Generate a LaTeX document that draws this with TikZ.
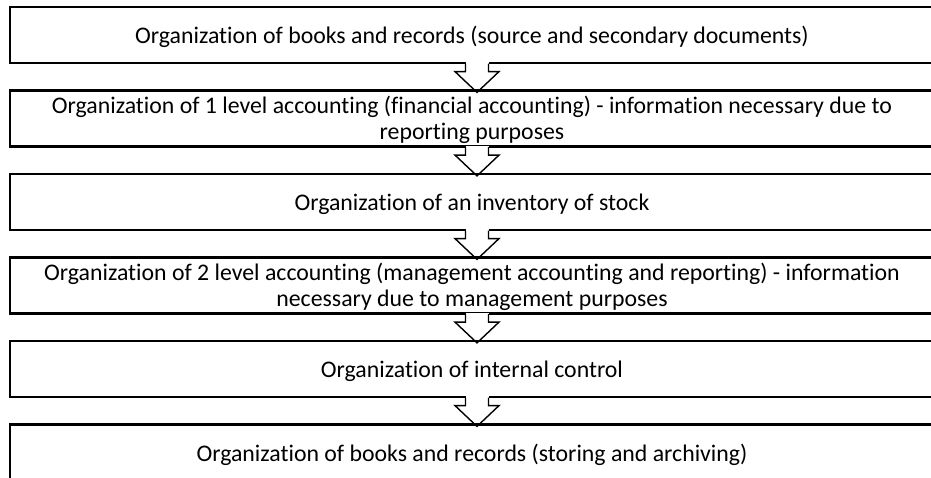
\documentclass[tikz,border=0pt]{standalone}
\usepackage{fontspec}
\setmainfont{Carlito}[Ligatures=NoCommon]
\usetikzlibrary{calc}
\usetikzlibrary{positioning}

\tikzset{
  stagebox/.style={draw,line width=1.1pt,rectangle,minimum width=467pt,minimum height=28pt,inner sep=0pt},
  stagetext/.style={align=flush center,text width=446pt,inner sep=0pt,font=\fontsize{11.9pt}{13pt}\selectfont},
  arrowline/.style={line width=0.7pt,line join=miter}
}

\begin{document}
\begin{tikzpicture}[x=0.5pt,y=-0.5pt]
        \useasboundingbox (0,0) rectangle (931,477);
        % boxes (their right side runs off the page)
        \node[stagebox] (b1) at (477,35) {};
        \node[stagebox] (b2) at (477,118.5) {};
        \node[stagebox] (b3) at (477,202) {};
        \node[stagebox] (b4) at (477,285.5) {};
        \node[stagebox] (b5) at (477,369) {};
        \node[stagebox] (b6) at (477,452.5) {};
        % texts
        \node[stagetext] (t1) at ([xshift=-2.5pt,yshift=-1pt]b1.center) {Organization of books and records (source and secondary documents)};
        \node[stagetext] (t2) at ([xshift=-2.5pt,yshift=-0.5pt]b2.center) {Organization of 1 level accounting (financial accounting) - information necessary due to reporting purposes};
        \node[stagetext] (t3) at ([xshift=-2.5pt,yshift=-1pt]b3.center) {Organization of an inventory of stock};
        \node[stagetext] (t4) at ([xshift=-2.5pt,yshift=-0.5pt]b4.center) {Organization of 2 level accounting (management accounting and reporting) - information necessary due to management purposes};
        \node[stagetext] (t5) at ([xshift=-2.5pt,yshift=-1pt]b5.center) {Organization of internal control};
        \node[stagetext] (t6) at ([xshift=-2.5pt,yshift=-1pt]b6.center) {Organization of books and records (storing and archiving)};
        % block arrows
        \foreach \a/\b in {b1/b2,b2/b3,b3/b4,b4/b5,b5/b6} {
            \fill[white] ($(\a.south)+(-11.5,-2)$) rectangle ($(\a.south)+(11.5,7)$);
            \draw[arrowline] ($(\a.south)+(-11.5,-0.5)$) -- ++(0,8) -- ++(-10.5,0)
                -- ($(\b.north)+(0,3)$) -- ($(\a.south)+(22,7.5)$) -- ++(-10.5,0) -- ++(0,-8);
        }
    \end{tikzpicture}
\end{document}
